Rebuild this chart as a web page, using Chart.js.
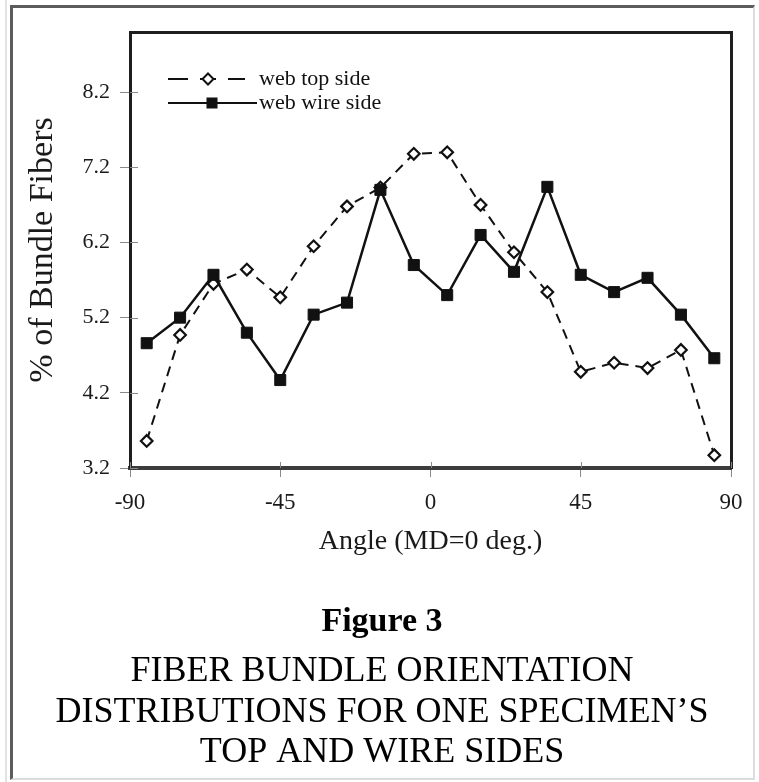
<!DOCTYPE html>
<html>
<head>
<meta charset="utf-8">
<title>Figure 3</title>
<script src="https://cdn.jsdelivr.net/npm/chart.js@4.4.1/dist/chart.umd.min.js"></script>
<style>
  html, body { margin: 0; padding: 0; background: #fff; }
  body { width: 759px; height: 782px; position: relative; overflow: hidden; }
  #edge { position: absolute; left: 5px; top: 0; height: 782px; border-left: 2px solid #e2e2e2; }
  #frame { position: absolute; left: 10px; top: 5px; width: 740px; height: 770px;
           border-left: 3px solid #5c5c5c; border-top: 3px solid #5c5c5c;
           border-right: 2px solid #dcdcdc; border-bottom: 2px solid #dcdcdc; }
  #chart { position: absolute; left: 0; top: 0; }
</style>
</head>
<body>
<div id="edge"></div>
<div id="frame"></div>
<canvas id="chart" width="759" height="782"></canvas>
<script>
// data (bin centres, % of bundle fibers)
const angles = [-85, -75, -65, -55, -45, -35, -25, -15, -5, 5, 15, 25, 35, 45, 55, 65, 75, 85];
const topSide = [3.56, 4.97, 5.65, 5.84, 5.47, 6.15, 6.68, 6.93, 7.38, 7.40, 6.70, 6.07, 5.54, 4.48, 4.60, 4.53, 4.77, 3.37];
const wireSide = [4.86, 5.20, 5.77, 5.00, 4.37, 5.24, 5.40, 6.90, 5.90, 5.50, 6.30, 5.81, 6.94, 5.77, 5.54, 5.73, 5.24, 4.66];
const seriesNames = ['web top side', 'web wire side'];
const xTicks = [-90, -45, 0, 45, 90];
const yTicks = [3.2, 4.2, 5.2, 6.2, 7.2, 8.2];
const xTitle = 'Angle (MD=0 deg.)';
const yTitle = '% of Bundle Fibers';
const figLabel = 'Figure 3';
const caption = ['FIBER BUNDLE ORIENTATION', 'DISTRIBUTIONS FOR ONE SPECIMEN\u2019S', 'TOP AND WIRE SIDES'];

const serif = "'Liberation Serif', 'Times New Roman', serif";
Chart.defaults.font.family = serif;

// legend glyphs: line with the marker in it
makeIcon = (dashed) => {
    const c = document.createElement('canvas');
    c.width = 98; c.height = 16;
    const g = c.getContext('2d');
    g.strokeStyle = '#111';
    g.lineWidth = 2.2;
    g.beginPath();
    if (dashed) {
        g.moveTo(9, 8); g.lineTo(29, 8);
        g.moveTo(41, 8); g.lineTo(57, 8);
        g.moveTo(69, 8); g.lineTo(86, 8);
    } else {
        g.moveTo(9, 8); g.lineTo(98, 8);
    }
    g.stroke();
    if (dashed) {
        g.beginPath();
        g.moveTo(49, 2.5); g.lineTo(54.5, 8); g.lineTo(49, 13.5); g.lineTo(43.5, 8); g.closePath();
        g.fillStyle = '#fff'; g.fill();
        g.lineWidth = 2; g.stroke();
    } else {
        g.fillStyle = '#111';
        g.fillRect(47.5, 2.5, 11, 11);
    }
    return c;
};
const legendIcons = [makeIcon(true), makeIcon(false)];

// small tick stubs inside the plot box
const innerTicks = {
    id: 'innerTicks',
    beforeDatasetsDraw(chart) {
        const {ctx, chartArea, scales} = chart;
        ctx.save();
        ctx.strokeStyle = '#8a8a8a';
        ctx.lineWidth = 1;
        ctx.beginPath();
        scales.x.ticks.forEach(t => {
            const px = Math.round(scales.x.getPixelForValue(t.value)) + 0.5;
            ctx.moveTo(px, chartArea.bottom);
            ctx.lineTo(px, chartArea.bottom - 6);
        });
        scales.y.ticks.forEach(t => {
            const py = Math.round(scales.y.getPixelForValue(t.value)) + 0.5;
            ctx.moveTo(chartArea.left, py);
            ctx.lineTo(chartArea.left + 8, py);
        });
        ctx.stroke();
        ctx.restore();
    }
};

// put the legend in the upper left of the plot box
const legendSpot = {
    id: 'legendSpot',
    afterLayout(chart) {
        const lg = chart.legend;
        lg.left = chart.chartArea.left + 36;
        lg.top = chart.chartArea.top + 34;
        lg.bottom = chart.chartArea.bottom;
        lg.right = chart.chartArea.right;
    }
};

new Chart(document.getElementById('chart').getContext('2d'), {
    type: 'line',
    data: {
        datasets: [{
            label: seriesNames[0],
            data: angles.map((a, i) => ({x: a, y: topSide[i]})),
            xAxisID: 'x', yAxisID: 'y',
            order: 1,
            borderColor: '#111',
            borderWidth: 2,
            borderDash: [10, 7],
            pointStyle: 'rectRot',
            pointRadius: 5.8,
            pointBackgroundColor: '#fff',
            pointBorderColor: '#111',
            pointBorderWidth: 2.2,
            tension: 0
        }, {
            label: seriesNames[1],
            data: angles.map((a, i) => ({x: a, y: wireSide[i]})),
            xAxisID: 'x', yAxisID: 'y',
            order: 0,
            borderColor: '#111',
            borderWidth: 2.5,
            pointStyle: 'rect',
            pointRadius: 7.8,
            pointBackgroundColor: '#111',
            pointBorderColor: '#111',
            pointBorderWidth: 1,
            tension: 0
        }]
    },
    options: {
        responsive: false,
        animation: false,
        events: [],
        layout: {padding: {left: 5, right: 0, top: 32, bottom: 8.75}},
        scales: {
            x: {
                type: 'linear', axis: 'x', position: 'bottom',
                min: -90, max: 90,
                afterBuildTicks: s => { s.ticks = xTicks.map(v => ({value: v})); },
                afterFit: s => { s.height = 90; },
                grid: {drawOnChartArea: false, drawTicks: true, tickLength: 9, color: '#8a8a8a'},
                border: {display: true, color: '#3c3c3c', width: 4},
                ticks: {font: {size: 23}, color: '#1a1a1a', padding: 12, maxRotation: 0, autoSkip: false},
                title: {display: true, text: xTitle, font: {size: 28}, color: '#1a1a1a', padding: {top: 0, bottom: 0}}
            },
            y: {
                type: 'linear', axis: 'y', position: 'left',
                min: 3.2, max: 9.0,
                afterBuildTicks: s => { s.ticks = yTicks.map(v => ({value: v})); },
                afterFit: s => { s.width = 125; },
                grid: {drawOnChartArea: false, drawTicks: true, tickLength: 10, color: '#8a8a8a'},
                border: {display: true, color: '#1e1e1e', width: 3},
                ticks: {font: {size: 22}, color: '#1a1a1a', padding: 10, callback: v => v.toFixed(1)},
                title: {display: true, text: yTitle, font: {size: 34}, color: '#1a1a1a', padding: {top: 17.6, bottom: 0}}
            },
            x2: {
                type: 'linear', axis: 'x', position: 'top',
                min: -90, max: 90,
                afterFit: s => { s.height = 0; },
                grid: {display: false},
                border: {display: true, color: '#1e1e1e', width: 3},
                ticks: {display: false}
            },
            y2: {
                type: 'linear', axis: 'y', position: 'right',
                min: 3.2, max: 9.0,
                afterFit: s => { s.width = 28; },
                grid: {display: false},
                border: {display: true, color: '#1e1e1e', width: 3},
                ticks: {display: false}
            }
        },
        plugins: {
            tooltip: {enabled: false},
            legend: {
                display: true,
                position: 'chartArea',
                align: 'start',
                labels: {
                    usePointStyle: true,
                    pointStyleWidth: 80,
                    padding: 2,
                    color: '#111',
                    font: {size: 22},
                    sort: (a, b) => a.datasetIndex - b.datasetIndex,
                    generateLabels: chart => Chart.defaults.plugins.legend.labels.generateLabels(chart)
                        .map(item => Object.assign(item, {pointStyle: legendIcons[item.datasetIndex]}))
                }
            },
            subtitle: {
                display: true,
                position: 'bottom',
                text: figLabel,
                color: '#000',
                font: {size: 34, weight: 'bold', lineHeight: 1.2},
                padding: {top: 43.6, bottom: 0}
            },
            title: {
                display: true,
                position: 'bottom',
                text: caption,
                color: '#000',
                font: {size: 36, weight: 'normal', lineHeight: 1.125},
                padding: {top: 9.35, bottom: 0}
            }
        }
    },
    plugins: [innerTicks, legendSpot]
});
</script>
</body>
</html>
